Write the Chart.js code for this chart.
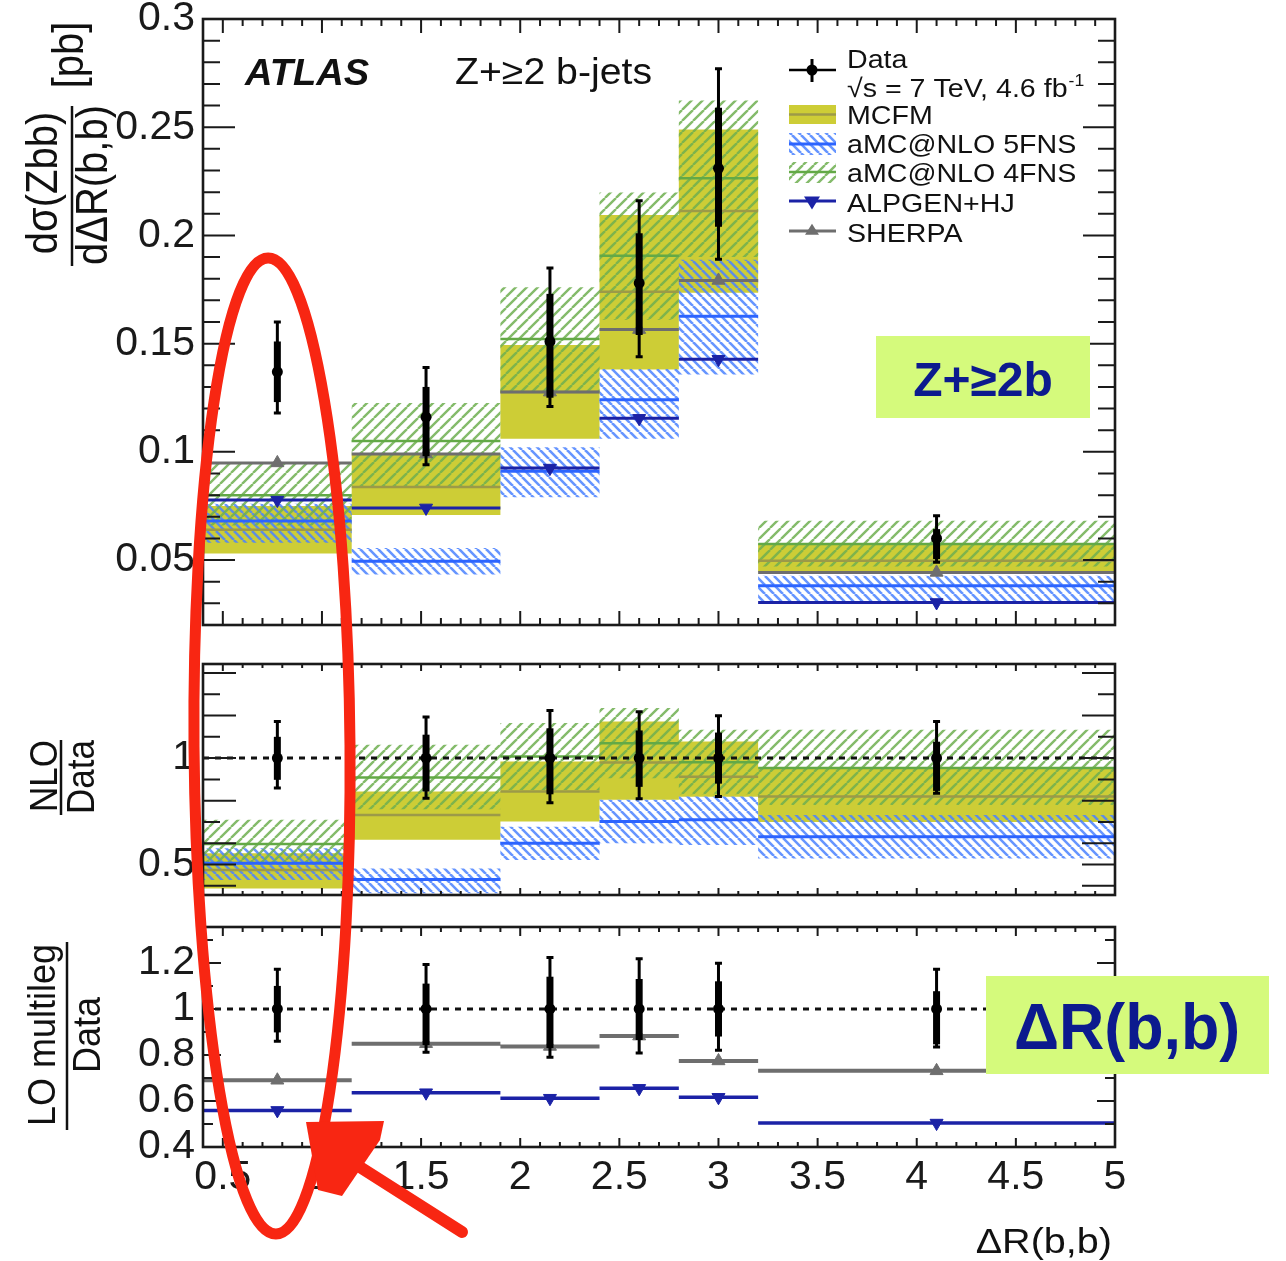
<!DOCTYPE html>
<html>
<head>
<meta charset="utf-8">
<script src="https://cdn.jsdelivr.net/npm/chart.js@4.4.1/dist/chart.umd.min.js"></script>
<style>
  html, body { margin: 0; padding: 0; background: #fff; }
  #wrap { position: relative; width: 1286px; height: 1261px; overflow: hidden; }
  canvas { position: absolute; left: 0; }
</style>
</head>
<body>
<div id="wrap">
  <canvas id="top" width="1286" height="640" style="top:0"></canvas>
  <canvas id="mid" width="1286" height="270" style="top:640px"></canvas>
  <canvas id="bot" width="1286" height="351" style="top:910px"></canvas>
  <canvas id="ink" width="1286" height="1261" style="top:0;pointer-events:none"></canvas>
</div>
<script>
// bins in ΔR(b,b) and the x of the data points
const EDGES = [0.4, 1.15, 1.9, 2.4, 2.8, 3.2, 5.0];
const CENTERS = [0.775, 1.525, 2.15, 2.6, 3.0, 4.1];

// top panel: dσ/dΔR [pb]
const DATA = [0.137, 0.116, 0.151, 0.178, 0.231, 0.060];
const DATA_TOT_LO = [0.118, 0.094, 0.121, 0.144, 0.189, 0.049];
const DATA_TOT_HI = [0.160, 0.139, 0.185, 0.216, 0.277, 0.0705];
const DATA_STAT_LO = [0.123, 0.098, 0.125, 0.154, 0.204, 0.0505];
const DATA_STAT_HI = [0.151, 0.130, 0.173, 0.201, 0.259, 0.0643];
const MCFM = [0.064, 0.0838, 0.1277, 0.174, 0.2113, 0.0497];
const MCFM_LO = [0.053, 0.0708, 0.106, 0.138, 0.1735, 0.0445];
const MCFM_HI = [0.075, 0.0993, 0.1494, 0.2094, 0.249, 0.0574];
const AMC5 = [0.068, 0.0494, 0.091, 0.1241, 0.1626, 0.0381];
const AMC5_LO = [0.058, 0.0433, 0.079, 0.106, 0.1358, 0.0297];
const AMC5_HI = [0.076, 0.0556, 0.1021, 0.1383, 0.1888, 0.0427];
const AMC4 = [0.080, 0.105, 0.1522, 0.1906, 0.2264, 0.0574];
const AMC4_LO = [0.066, 0.084, 0.128, 0.161, 0.190, 0.047];
const AMC4_HI = [0.0952, 0.1226, 0.1761, 0.2198, 0.2623, 0.0682];
const ALPGEN = [0.0777, 0.0741, 0.0925, 0.1155, 0.1428, 0.0304];
const SHERPA = [0.0949, 0.099, 0.1276, 0.1565, 0.1792, 0.0443];

// ratio panels (theory / data)
const R_DATA = [1, 1, 1, 1, 1, 1];
const R_TOT_LO = [0.859, 0.812, 0.790, 0.809, 0.820, 0.835];
const R_TOT_HI = [1.172, 1.193, 1.224, 1.218, 1.199, 1.172];
const R_STAT_LO = [0.898, 0.843, 0.830, 0.865, 0.880, 0.846];
const R_STAT_HI = [1.100, 1.110, 1.140, 1.130, 1.120, 1.077];
const R_MCFM = [0.474, 0.733, 0.843, 0.979, 0.913, 0.82];
const R_MCFM_LO = [0.388, 0.616, 0.702, 0.804, 0.819, 0.70];
const R_MCFM_HI = [0.553, 0.843, 0.984, 1.172, 1.078, 0.95];
const R_AMC5 = [0.506, 0.43, 0.60, 0.702, 0.71, 0.631];
const R_AMC5_LO = [0.427, 0.365, 0.521, 0.60, 0.592, 0.529];
const R_AMC5_HI = [0.576, 0.482, 0.678, 0.804, 0.82, 0.733];
const R_AMC4 = [0.597, 0.909, 1.008, 1.07, 0.98, 0.953];
const R_AMC4_LO = [0.50, 0.76, 0.85, 0.905, 0.83, 0.78];
const R_AMC4_HI = [0.71, 1.063, 1.165, 1.235, 1.133, 1.133];
const R_ALPGEN = [0.559, 0.636, 0.612, 0.655, 0.616, 0.504];
const R_SHERPA = [0.69, 0.849, 0.837, 0.882, 0.774, 0.731];

// tick labels
const TOP_Y_TICKS = [0.05, 0.1, 0.15, 0.2, 0.25, 0.3];
const MID_Y_TICKS = [0.5, 1];
const BOT_Y_TICKS = [0.4, 0.6, 0.8, 1, 1.2];
const X_TICKS = [0.5, 1, 1.5, 2, 2.5, 3, 3.5, 4, 4.5, 5];

const FONT = '"Liberation Sans", Arial, Helvetica, sans-serif';
const COL = {
  olive: '#cdcd36', oliveLine: '#9c9a48', blue: '#2c64ff', green: '#63a946',
  alpgen: '#1b22a6', sherpa: '#6e6e6e', ink: '#111'
};

function hatch(color, size, lw, dir) {
  const c = document.createElement('canvas');
  c.width = c.height = size;
  const g = c.getContext('2d');
  g.strokeStyle = color;
  g.lineWidth = lw;
  g.beginPath();
  for (const o of [-size, 0, size]) {
    if (dir > 0) { g.moveTo(o, size); g.lineTo(o + size, 0); }
    else { g.moveTo(o, 0); g.lineTo(o + size, size); }
  }
  g.stroke();
  return g.createPattern(c, 'repeat');
}
const BLUE_HATCH = hatch('rgba(75,130,255,0.85)', 9, 2.6, -1);
const GREEN_HATCH = hatch('rgba(110,175,80,0.85)', 11, 2.4, 1);

function stepPts(v) {
  const p = v.map((y, i) => ({ x: EDGES[i], y }));
  p.push({ x: EDGES[EDGES.length - 1], y: v[v.length - 1] });
  return p;
}
function segPts(v) {
  const p = [];
  v.forEach((y, i) => p.push({ x: EDGES[i], y }, { x: EDGES[i + 1], y }, { x: EDGES[i + 1], y: null }));
  return p;
}
const ptsAt = v => v.map((y, i) => ({ x: CENTERS[i], y }));

function band(lo, hi, fill) {
  // 'before' in Chart.js = keep the left value across the bin, jump at the right edge
  const base = { type: 'line', stepped: 'before', pointRadius: 0, borderWidth: 1, borderColor: 'rgba(0,0,0,0)' };
  return [
    { ...base, data: stepPts(lo), fill: false },
    { ...base, data: stepPts(hi), fill: '-1', backgroundColor: fill }
  ];
}
const segs = (v, color, width) => ({
  type: 'line', data: segPts(v), borderColor: color, borderWidth: width,
  pointRadius: 0, fill: false, spanGaps: false
});
const marks = (v, color, rot) => ({
  type: 'line', data: ptsAt(v), showLine: false, pointStyle: 'triangle', pointRotation: rot,
  pointRadius: 7.5, pointBackgroundColor: color, pointBorderColor: color, pointBorderWidth: 1
});
const dataPts = (v, tl, th, sl, sh) => ({
  type: 'line', data: ptsAt(v), showLine: false, pointRadius: 5.5,
  pointBackgroundColor: '#000', pointBorderColor: '#000', pointBorderWidth: 0,
  err: { tl, th, sl, sh }
});
const unity = () => ({
  type: 'line', data: [{ x: EDGES[0], y: 1 }, { x: EDGES[EDGES.length - 1], y: 1 }],
  borderColor: '#111', borderWidth: 3, borderDash: [6, 6], pointRadius: 0, fill: false
});
// first in list = bottom layer
const layered = list => list.map((d, i) => ({ ...d, order: list.length - i }));

const errPlugin = {
  id: 'errbars',
  beforeDatasetDraw(chart, args) {
    const ds = chart.data.datasets[args.index];
    if (!ds.err) return;
    const { ctx, scales: { x, y } } = chart;
    ctx.save();
    ctx.strokeStyle = '#000';
    ds.data.forEach((p, i) => {
      const px = x.getPixelForValue(p.x);
      const lo = y.getPixelForValue(ds.err.tl[i]), hi = y.getPixelForValue(ds.err.th[i]);
      ctx.lineWidth = 3;
      ctx.beginPath();
      ctx.moveTo(px, lo); ctx.lineTo(px, hi);
      ctx.moveTo(px - 3.5, lo); ctx.lineTo(px + 3.5, lo);
      ctx.moveTo(px - 3.5, hi); ctx.lineTo(px + 3.5, hi);
      ctx.stroke();
      ctx.lineWidth = 7;
      ctx.beginPath();
      ctx.moveTo(px, y.getPixelForValue(ds.err.sl[i]));
      ctx.lineTo(px, y.getPixelForValue(ds.err.sh[i]));
      ctx.stroke();
    });
    ctx.restore();
  }
};

function say(ctx, s, x, y, font, color, align, rot, sx) {
  ctx.save();
  ctx.translate(x, y);
  ctx.scale(sx || 1, 1);
  if (rot) ctx.rotate(rot);
  ctx.font = font;
  ctx.fillStyle = color;
  ctx.textAlign = align || 'left';
  ctx.textBaseline = 'alphabetic';
  ctx.fillText(s, 0, 0);
  const w = ctx.measureText(s).width * (sx || 1);
  ctx.restore();
  return w;
}
function seg(ctx, x1, y1, x2, y2) { ctx.beginPath(); ctx.moveTo(x1, y1); ctx.lineTo(x2, y2); ctx.stroke(); }
function tri(ctx, x, y, r, down, color) {
  ctx.fillStyle = color;
  ctx.beginPath();
  if (down) { ctx.moveTo(x - r, y - r * 0.55); ctx.lineTo(x + r, y - r * 0.55); ctx.lineTo(x, y + r * 1.05); }
  else { ctx.moveTo(x - r, y + r * 0.55); ctx.lineTo(x + r, y + r * 0.55); ctx.lineTo(x, y - r * 1.05); }
  ctx.closePath();
  ctx.fill();
}
const UP = -Math.PI / 2;

function framePlugin(xLen, yLen, yMarks, extra) {
  return {
    id: 'frame',
    afterDraw(chart) {
      const { ctx, chartArea: a, scales: { x, y } } = chart;
      ctx.save();
      ctx.strokeStyle = '#1a1a1a';
      ctx.lineWidth = 2;
      ctx.beginPath();
      for (let k = 4; k <= 50; k++) {
        const px = x.getPixelForValue(k / 10), L = k % 5 === 0 ? xLen[0] : xLen[1];
        ctx.moveTo(px, a.bottom); ctx.lineTo(px, a.bottom - L);
        ctx.moveTo(px, a.top); ctx.lineTo(px, a.top + L);
      }
      yMarks.forEach(([v, major]) => {
        const py = y.getPixelForValue(v), L = major ? yLen[0] : yLen[1];
        ctx.moveTo(a.left, py); ctx.lineTo(a.left + L, py);
        ctx.moveTo(a.right, py); ctx.lineTo(a.right - L, py);
      });
      ctx.stroke();
      ctx.lineWidth = 2.6;
      ctx.strokeRect(a.left, a.top, a.right - a.left, a.bottom - a.top);
      ctx.restore();
      if (extra) extra(ctx, chart);
    }
  };
}

function yScale(min, max, ticks) {
  return {
    type: 'linear', position: 'left', min, max,
    afterBuildTicks: s => { s.ticks = ticks.map(v => ({ value: v })); },
    afterFit: s => { s.width = 203; s.paddingTop = 0; s.paddingBottom = 0; },
    grid: { display: false }, border: { display: false },
    ticks: { font: { family: FONT, size: 41 }, color: '#1a1a1a', padding: 0, callback: v => String(v) }
  };
}
const hiddenX = { type: 'linear', min: EDGES[0], max: EDGES[EDGES.length - 1], display: false };

function makeChart(id, datasets, yOpt, xOpt, padding, frame) {
  return new Chart(document.getElementById(id), {
    type: 'line',
    data: { datasets: layered(datasets) },
    options: {
      responsive: false, animation: false, devicePixelRatio: 1, events: [],
      layout: { padding },
      plugins: { legend: { display: false }, tooltip: { enabled: false } },
      scales: { x: xOpt, y: yOpt }
    },
    plugins: [errPlugin, frame]
  });
}

// ---------- top panel ----------
const topMarks = [];
for (let k = 2; k <= 30; k++) topMarks.push([k / 100, k % 5 === 0]);

function topExtras(ctx) {
  ctx.save();
  // y title
  say(ctx, 'dσ(Zbb)', 57, 183, '40px ' + FONT, COL.ink, 'center', UP, 1.1);
  say(ctx, 'dΔR(b,b)', 107, 185, '40px ' + FONT, COL.ink, 'center', UP, 1.1);
  say(ctx, '[pb]', 83, 55, '40px ' + FONT, COL.ink, 'center', UP, 1.1);
  ctx.strokeStyle = COL.ink; ctx.lineWidth = 2.5;
  seg(ctx, 72, 106, 72, 266);

  say(ctx, 'ATLAS', 245, 85, 'italic bold 37px ' + FONT, COL.ink, 'left', 0, 1.03);
  say(ctx, 'Z+≥2 b-jets', 455, 84, '37px ' + FONT, COL.ink, 'left', 0, 1.06);

  // legend
  const x0 = 789, x1 = 836, xm = 812, tx = 847, lf = '26px ' + FONT;
  ctx.strokeStyle = '#000'; ctx.lineWidth = 2.5;
  seg(ctx, x0, 70, x1, 70);
  ctx.lineWidth = 3;
  seg(ctx, xm, 59, xm, 82);
  ctx.fillStyle = '#000';
  ctx.beginPath(); ctx.arc(xm, 70, 5.5, 0, Math.PI * 2); ctx.fill();
  say(ctx, 'Data', tx, 68, lf, COL.ink, 'left', 0, 1.1);
  const w = say(ctx, '√s = 7 TeV, 4.6 fb', tx, 97, lf, COL.ink, 'left', 0, 1.1);
  say(ctx, '-1', tx + w + 1, 86, '16px ' + FONT, COL.ink, 'left', 0, 1.1);

  ctx.fillStyle = COL.olive; ctx.fillRect(x0, 105, x1 - x0, 19);
  ctx.strokeStyle = COL.oliveLine; ctx.lineWidth = 2.5; seg(ctx, x0, 114.5, x1, 114.5);
  say(ctx, 'MCFM', tx, 124, lf, COL.ink, 'left', 0, 1.1);

  ctx.fillStyle = BLUE_HATCH; ctx.fillRect(x0, 133, x1 - x0, 22);
  ctx.strokeStyle = COL.blue; ctx.lineWidth = 3; seg(ctx, x0, 144, x1, 144);
  say(ctx, 'aMC@NLO 5FNS', tx, 153, lf, COL.ink, 'left', 0, 1.1);

  ctx.fillStyle = GREEN_HATCH; ctx.fillRect(x0, 162, x1 - x0, 21);
  ctx.strokeStyle = COL.green; ctx.lineWidth = 2.5; seg(ctx, x0, 172, x1, 172);
  say(ctx, 'aMC@NLO 4FNS', tx, 182, lf, COL.ink, 'left', 0, 1.1);

  ctx.strokeStyle = COL.alpgen; ctx.lineWidth = 3; seg(ctx, x0, 201, x1, 201);
  tri(ctx, xm, 201, 8, true, COL.alpgen);
  say(ctx, 'ALPGEN+HJ', tx, 212, lf, COL.ink, 'left', 0, 1.1);

  ctx.strokeStyle = COL.sherpa; ctx.lineWidth = 3; seg(ctx, x0, 231, x1, 231);
  tri(ctx, xm, 231, 7, false, COL.sherpa);
  say(ctx, 'SHERPA', tx, 242, lf, COL.ink, 'left', 0, 1.1);

  // highlight box
  ctx.fillStyle = '#d5fa7c'; ctx.fillRect(876, 336, 214, 82);
  say(ctx, 'Z+≥2b', 983, 396, 'bold 48px ' + FONT, '#0c1a8e', 'center', 0, 1);
  ctx.restore();
}

makeChart('top', [
  ...band(MCFM_LO, MCFM_HI, COL.olive),
  ...band(AMC5_LO, AMC5_HI, BLUE_HATCH),
  ...band(AMC4_LO, AMC4_HI, GREEN_HATCH),
  segs(MCFM, COL.oliveLine, 2.5),
  segs(AMC4, COL.green, 2.5),
  segs(AMC5, COL.blue, 3),
  segs(SHERPA, COL.sherpa, 3),
  segs(ALPGEN, COL.alpgen, 3),
  marks(SHERPA, COL.sherpa, 0),
  marks(ALPGEN, COL.alpgen, 180),
  dataPts(DATA, DATA_TOT_LO, DATA_TOT_HI, DATA_STAT_LO, DATA_STAT_HI)
], yScale(0.02, 0.3, TOP_Y_TICKS), hiddenX, { top: 19, bottom: 15, left: 0, right: 171 },
  framePlugin([14, 7], [32, 17], topMarks, topExtras));

// ---------- middle panel ----------
const midMarks = [];
for (let k = 4; k <= 14; k++) midMarks.push([k / 10, k % 2 === 0 || k === 5]);

makeChart('mid', [
  ...band(R_MCFM_LO, R_MCFM_HI, COL.olive),
  ...band(R_AMC5_LO, R_AMC5_HI, BLUE_HATCH),
  ...band(R_AMC4_LO, R_AMC4_HI, GREEN_HATCH),
  segs(R_MCFM, COL.oliveLine, 2.5),
  segs(R_AMC4, COL.green, 2.5),
  segs(R_AMC5, COL.blue, 3),
  unity(),
  dataPts(R_DATA, R_TOT_LO, R_TOT_HI, R_STAT_LO, R_STAT_HI)
], yScale(0.357, 1.442, MID_Y_TICKS), hiddenX, { top: 24, bottom: 15, left: 0, right: 171 },
  framePlugin([7, 4], [33, 17], midMarks, ctx => {
    // title positions are page coordinates
    ctx.save();
    ctx.translate(0, -640);
    say(ctx, 'NLO', 57, 776, '35px ' + FONT, COL.ink, 'center', UP, 1.1);
    say(ctx, 'Data', 94, 777, '35px ' + FONT, COL.ink, 'center', UP, 1.1);
    ctx.strokeStyle = COL.ink; ctx.lineWidth = 2.5;
    seg(ctx, 61, 740, 61, 815);
    ctx.restore();
  }));

// ---------- bottom panel ----------
const botMarks = [];
for (let k = 4; k <= 13; k++) botMarks.push([k / 10, k % 2 === 0]);

makeChart('bot', [
  segs(R_SHERPA, COL.sherpa, 4),
  segs(R_ALPGEN, COL.alpgen, 3.5),
  marks(R_SHERPA, COL.sherpa, 0),
  marks(R_ALPGEN, COL.alpgen, 180),
  unity(),
  dataPts(R_DATA, R_TOT_LO, R_TOT_HI, R_STAT_LO, R_STAT_HI)
], yScale(0.4, 1.356, BOT_Y_TICKS), {
  type: 'linear', min: EDGES[0], max: EDGES[EDGES.length - 1],
  afterBuildTicks: s => { s.ticks = X_TICKS.map(v => ({ value: v })); },
  afterFit: s => { s.height = 114; },
  grid: { display: false }, border: { display: false },
  ticks: { font: { family: FONT, size: 41 }, color: '#1a1a1a', padding: -2, maxRotation: 0, autoSkip: false, callback: v => String(v) }
}, { top: 17, bottom: 0, left: 0, right: 171 },
  framePlugin([9, 5], [18, 10], botMarks, ctx => {
    ctx.save();
    ctx.translate(0, -910);
    say(ctx, 'LO multileg', 55, 1035, '36px ' + FONT, COL.ink, 'center', UP, 1.1);
    say(ctx, 'Data', 100, 1035, '36px ' + FONT, COL.ink, 'center', UP, 1.1);
    ctx.strokeStyle = COL.ink; ctx.lineWidth = 2.5;
    seg(ctx, 67, 942, 67, 1130);
    say(ctx, 'ΔR(b,b)', 1112, 1253, '35px ' + FONT, COL.ink, 'right', 0, 1.13);
    ctx.fillStyle = '#d5fa7c'; ctx.fillRect(986, 976, 283, 98);
    say(ctx, 'ΔR(b,b)', 1127, 1049, 'bold 64px ' + FONT, '#0c1a8e', 'center', 0, 0.98);
    ctx.restore();
  }));

// ---------- hand-drawn red marking on top ----------
(function () {
  const g = document.getElementById('ink').getContext('2d');
  g.strokeStyle = 'rgb(248,38,18)';
  g.fillStyle = 'rgb(248,38,18)';
  g.lineCap = 'round';
  g.lineWidth = 11;
  g.beginPath();
  g.ellipse(272, 746, 78, 488, -0.008, 0, Math.PI * 2);
  g.stroke();
  g.lineWidth = 12;
  g.beginPath(); g.moveTo(352, 1162); g.lineTo(462, 1232); g.stroke();
  g.beginPath();
  g.moveTo(306, 1122); g.lineTo(384, 1121); g.lineTo(380, 1140); g.lineTo(342, 1196); g.lineTo(318, 1190);
  g.closePath();
  g.fill();
})();
</script>
</body>
</html>
